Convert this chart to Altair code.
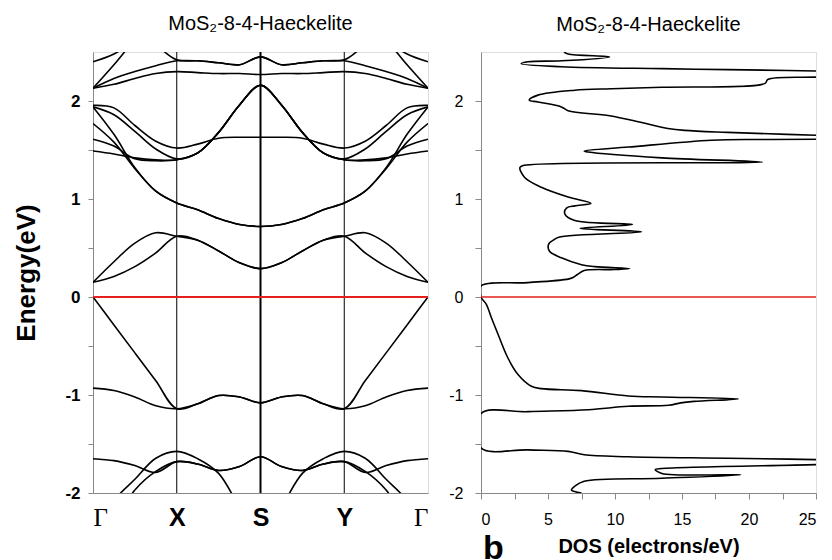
import altair as alt
import pandas as pd

# ---------------- band structure (k path Γ-X-S-Y-Γ) ----------------
K = [0, 0.25, 0.5, 0.75, 1, 1.25, 1.5, 1.75, 2, 2.25, 2.5, 2.75, 3, 3.25, 3.5, 3.75, 4]
K_TICKS = [0, 1, 2, 3, 4]
K_LABELS = ["Γ", "X", "S", "Y", "Γ"]
SYM_THIN = [1, 3]
SYM_THICK = [2]

U1 = [2.13, 2.23, 2.30, 2.36, 2.41, 2.41, 2.39, 2.37, 2.45, 2.37, 2.39, 2.41, 2.41, 2.36, 2.30, 2.23, 2.13]
U2 = [2.13, 2.17, 2.23, 2.28, 2.30, 2.29, 2.28, 2.28, 2.27, 2.28, 2.28, 2.29, 2.30, 2.28, 2.23, 2.17, 2.13]
U3 = [2.13, 2.37, 2.62, 2.80, 2.90, 2.95, 3.00, 3.00, 3.00, 3.00, 3.00, 2.95, 2.90, 2.80, 2.62, 2.37, 2.13]
U4 = [2.40, 2.48, 2.62, 2.80, 2.90, 2.95, 3.00, 3.00, 3.00, 3.00, 3.00, 2.95, 2.90, 2.80, 2.62, 2.48, 2.40]
U5 = [3.00, 2.95, 2.80, 2.58, 2.42, 2.41, 2.39, 2.37, 2.45, 2.37, 2.39, 2.41, 2.42, 2.58, 2.80, 2.95, 3.00]
BC = [1.94, 1.86, 1.69, 1.51, 1.41, 1.47, 1.68, 1.96, 2.16, 1.96, 1.68, 1.47, 1.41, 1.51, 1.69, 1.86, 1.94]
BD = [1.955, 1.93, 1.75, 1.59, 1.52, 1.56, 1.62, 1.63, 1.63, 1.63, 1.62, 1.56, 1.52, 1.59, 1.75, 1.93, 1.955]
E1 = [1.61, 1.54, 1.41, 1.39, 1.40, 1.47, 1.68, 1.96, 2.16, 1.96, 1.68, 1.47, 1.40, 1.39, 1.41, 1.54, 1.61]
E2 = [1.49, 1.46, 1.42, 1.40, 1.40, 1.47, 1.68, 1.96, 2.16, 1.96, 1.68, 1.47, 1.40, 1.40, 1.42, 1.46, 1.49]
C2A = [1.94, 1.66, 1.32, 1.08, 0.96, 0.89, 0.80, 0.74, 0.72, 0.74, 0.80, 0.89, 0.96, 1.08, 1.32, 1.66, 1.94]
C2B = [1.77, 1.58, 1.31, 1.08, 0.96, 0.89, 0.80, 0.74, 0.72, 0.74, 0.80, 0.89, 0.96, 1.08, 1.31, 1.58, 1.77]
C1A = [0.15, 0.36, 0.55, 0.655, 0.62, 0.58, 0.47, 0.35, 0.29, 0.35, 0.47, 0.58, 0.62, 0.655, 0.55, 0.36, 0.15]
C1B = [0.15, 0.21, 0.31, 0.45, 0.62, 0.58, 0.47, 0.35, 0.29, 0.35, 0.47, 0.58, 0.62, 0.45, 0.31, 0.21, 0.15]
V1 = [0.0, -0.285, -0.57, -0.855, -1.14, -1.09, -1.005, -1.02, -1.08, -1.02, -1.005, -1.09, -1.14, -0.855, -0.57, -0.285, 0.0]
V2 = [-0.93, -0.955, -1.02, -1.11, -1.14, -1.09, -1.005, -1.02, -1.08, -1.02, -1.005, -1.09, -1.14, -1.11, -1.02, -0.955, -0.93]
L1 = [-1.65, -1.67, -1.72, -1.79, -1.68, -1.705, -1.77, -1.73, -1.63, -1.73, -1.77, -1.705, -1.68, -1.79, -1.72, -1.67, -1.65]
L2 = [-2.50, -2.08, -1.86, -1.645, -1.575, -1.65, -1.80, -2.15, -2.50, -2.15, -1.80, -1.65, -1.575, -1.645, -1.86, -2.08, -2.50]
L3 = [-2.60, -2.30, -1.97, -1.78, -1.68, -1.705, -1.77, -1.73, -1.63, -1.73, -1.77, -1.705, -1.68, -1.78, -1.97, -2.30, -2.60]

BANDS = {"U1": U1, "U2": U2, "U3": U3, "U4": U4, "U5": U5, "C": BC, "D": BD,
         "E1": E1, "E2": E2, "C2a": C2A, "C2b": C2B, "C1a": C1A, "C1b": C1B,
         "V1": V1, "V2": V2, "L1": L1, "L2": L2, "L3": L3}

# ---------------- density of states ----------------
DOS_E = [-2.00, -1.97, -1.93, -1.88, -1.85, -1.815, -1.80, -1.76, -1.75, -1.71, -1.685, -1.66,
         -1.645, -1.63, -1.61, -1.575, -1.56, -1.54, -1.19, -1.17, -1.15, -1.115, -1.105, -1.08,
         -1.065, -1.04, -1.02, -1.01, -0.955, -0.935, -0.91, -0.79, -0.62, -0.38, -0.21, -0.075,
         0.0, 0.113, 0.147, 0.19, 0.23, 0.27, 0.28, 0.29, 0.31, 0.33, 0.40, 0.47, 0.54, 0.58,
         0.61, 0.665, 0.70, 0.74, 0.78, 0.85, 0.91, 0.93, 0.955, 1.02, 1.12, 1.22, 1.32, 1.34,
         1.375, 1.42, 1.48, 1.49, 1.53, 1.60, 1.607, 1.61, 1.63, 1.65, 1.68, 1.70, 1.72, 1.78,
         1.85, 1.90, 1.94, 1.99, 2.01, 2.06, 2.11, 2.125, 2.14, 2.18, 2.22, 2.245, 2.275, 2.305,
         2.32, 2.33, 2.35, 2.38, 2.40, 2.41, 2.45, 2.48, 2.50]
DOS_V = [7.5, 6.75, 7.0, 7.7, 13.5, 19.4, 13.5, 13.0, 13.5, 25.2, 32.0, 25.2,
         18.4, 11.0, 7.7, 6.5, 3.5, 0.0, 0.0, 3.5, 8.0, 11.0, 14.0, 14.9,
         15.9, 19.2, 13.5, 11.0, 7.5, 4.5, 3.76, 2.76, 2.0, 1.27, 0.77, 0.4,
         0.0, 0.0, 3.5, 6.7, 7.2, 7.7, 10.0, 11.1, 8.5, 7.5, 6.0, 5.1, 5.05, 5.4,
         5.8, 12.0, 7.4, 11.3, 7.0, 6.25, 6.4, 7.0, 8.2, 6.5, 4.5, 3.26, 2.9, 3.1,
         21.0, 13.5, 8.0, 7.7, 11.0, 17.2, 20.9, 25.2, 32.0, 25.2, 18.4, 15.2, 13.95, 12.0,
         9.6, 6.5, 6.0, 4.25, 3.6, 4.25, 7.0, 9.7, 13.5, 21.2, 21.4, 25.2, 32.0, 25.2,
         18.4, 13.5, 6.0, 3.0, 3.5, 6.0, 9.6, 6.5, 6.2]

E_TICKS = [-2, -1.5, -1, -0.5, 0, 0.5, 1, 1.5, 2]
DOS_TICKS = [0, 2.5, 5, 7.5, 10, 12.5, 15, 17.5, 20, 22.5, 25]
TITLE = "MoS₂-8-4-Haeckelite"

# ---------------- data frames ----------------
rows = []
for name, vals in BANDS.items():
    for k, e in zip(K, vals):
        rows.append({"band": name, "k": k, "E": e})
band_df = pd.DataFrame(rows)
dos_df = pd.DataFrame({"E": DOS_E, "D": DOS_V, "i": list(range(len(DOS_E)))})
thin_df = pd.DataFrame({"k": SYM_THIN})
thick_df = pd.DataFrame({"k": SYM_THICK})

SANS = "Liberation Sans, Arial, sans-serif"
ydom = alt.Scale(domain=[-2, 2.5], nice=False, zero=False)
label_expr_k = "[" + ",".join("'" + s + "'" for s in K_LABELS) + "][datum.value]"

xk = alt.X("k:Q", scale=alt.Scale(domain=[0, 4], nice=False),
           axis=alt.Axis(values=K_TICKS, labelExpr=label_expr_k, ticks=False, tickSize=0,
                         grid=False, labelPadding=12, labelFontSize=25, title=None,
                         labelFont={"condition": {"test": "datum.value == 0 || datum.value == 4",
                                                  "value": "Liberation Serif, Times New Roman, serif"},
                                    "value": SANS},
                         labelFontWeight={"condition": {"test": "datum.value == 0 || datum.value == 4",
                                                        "value": "normal"},
                                          "value": "bold"}))
yleft = alt.Y("E:Q", scale=ydom,
              axis=alt.Axis(values=E_TICKS, labelExpr="datum.value % 1 == 0 ? '' + datum.value : ''",
                            grid=False, tickSize=5, labelPadding=8, labelFontSize=17,
                            labelFontWeight="bold", title="Energy(eV)", titleFontSize=26,
                            titleFontWeight="bold", titlePadding=25))

bands = alt.Chart(band_df).mark_line(interpolate="catmull-rom", clip=True, color="black",
                                     strokeWidth=1.6).encode(x=xk, y=yleft, detail="band:N")
thin = alt.Chart(thin_df).mark_rule(color="black", strokeWidth=1).encode(x="k:Q")
thick = alt.Chart(thick_df).mark_rule(color="black", strokeWidth=2).encode(x="k:Q")
zero_l = alt.Chart(pd.DataFrame({"E": [0]})).mark_rule(color="#e3201b", strokeWidth=2).encode(y="E:Q")

left = alt.layer(bands, thin, thick, zero_l).properties(
    width=335, height=441,
    title=alt.TitleParams(TITLE, fontSize=20, font=SANS, fontWeight="normal", offset=17, anchor="middle"))

xd = alt.X("D:Q", scale=alt.Scale(domain=[0, 25], nice=False),
           axis=alt.Axis(values=DOS_TICKS, labelExpr="datum.value % 5 == 0 ? '' + datum.value : ''",
                         grid=False, tickSize=6, labelPadding=12, labelFontSize=16,
                         title="DOS (electrons/eV)", titleFontSize=20, titleFontWeight="bold",
                         titlePadding=9))
yright = alt.Y("E:Q", scale=ydom,
               axis=alt.Axis(values=E_TICKS, labelExpr="datum.value % 1 == 0 ? '' + datum.value : ''",
                             grid=False, tickSize=6, labelPadding=12, labelFontSize=16, title=None))

dos = alt.Chart(dos_df).mark_line(clip=True, color="black", strokeWidth=1.6,
                                  interpolate="catmull-rom").encode(x=xd, y=yright, order="i:Q")
zero_r = alt.Chart(pd.DataFrame({"E": [0]})).mark_rule(color="#e3201b", strokeWidth=1.5).encode(y="E:Q")
panel_b = alt.Chart(pd.DataFrame({"t": ["b"]})).mark_text(
    align="left", baseline="top", fontSize=34, fontWeight="bold", font=SANS, color="black"
).encode(text="t:N", x=alt.value(2), y=alt.value(480))

right = alt.layer(dos, zero_r, panel_b).properties(
    width=335, height=441,
    title=alt.TitleParams(TITLE, fontSize=20, font=SANS, fontWeight="normal", offset=17, anchor="middle"))

chart = alt.hconcat(left, right, spacing=18).configure_view(
    stroke="black", strokeWidth=1
).configure_axis(
    domain=False, grid=False, tickColor="black", labelColor="black", titleColor="black",
    labelFont=SANS, titleFont=SANS
).configure(background="white")

chart.save("out.html", embed_options={"renderer": "svg", "actions": False})
